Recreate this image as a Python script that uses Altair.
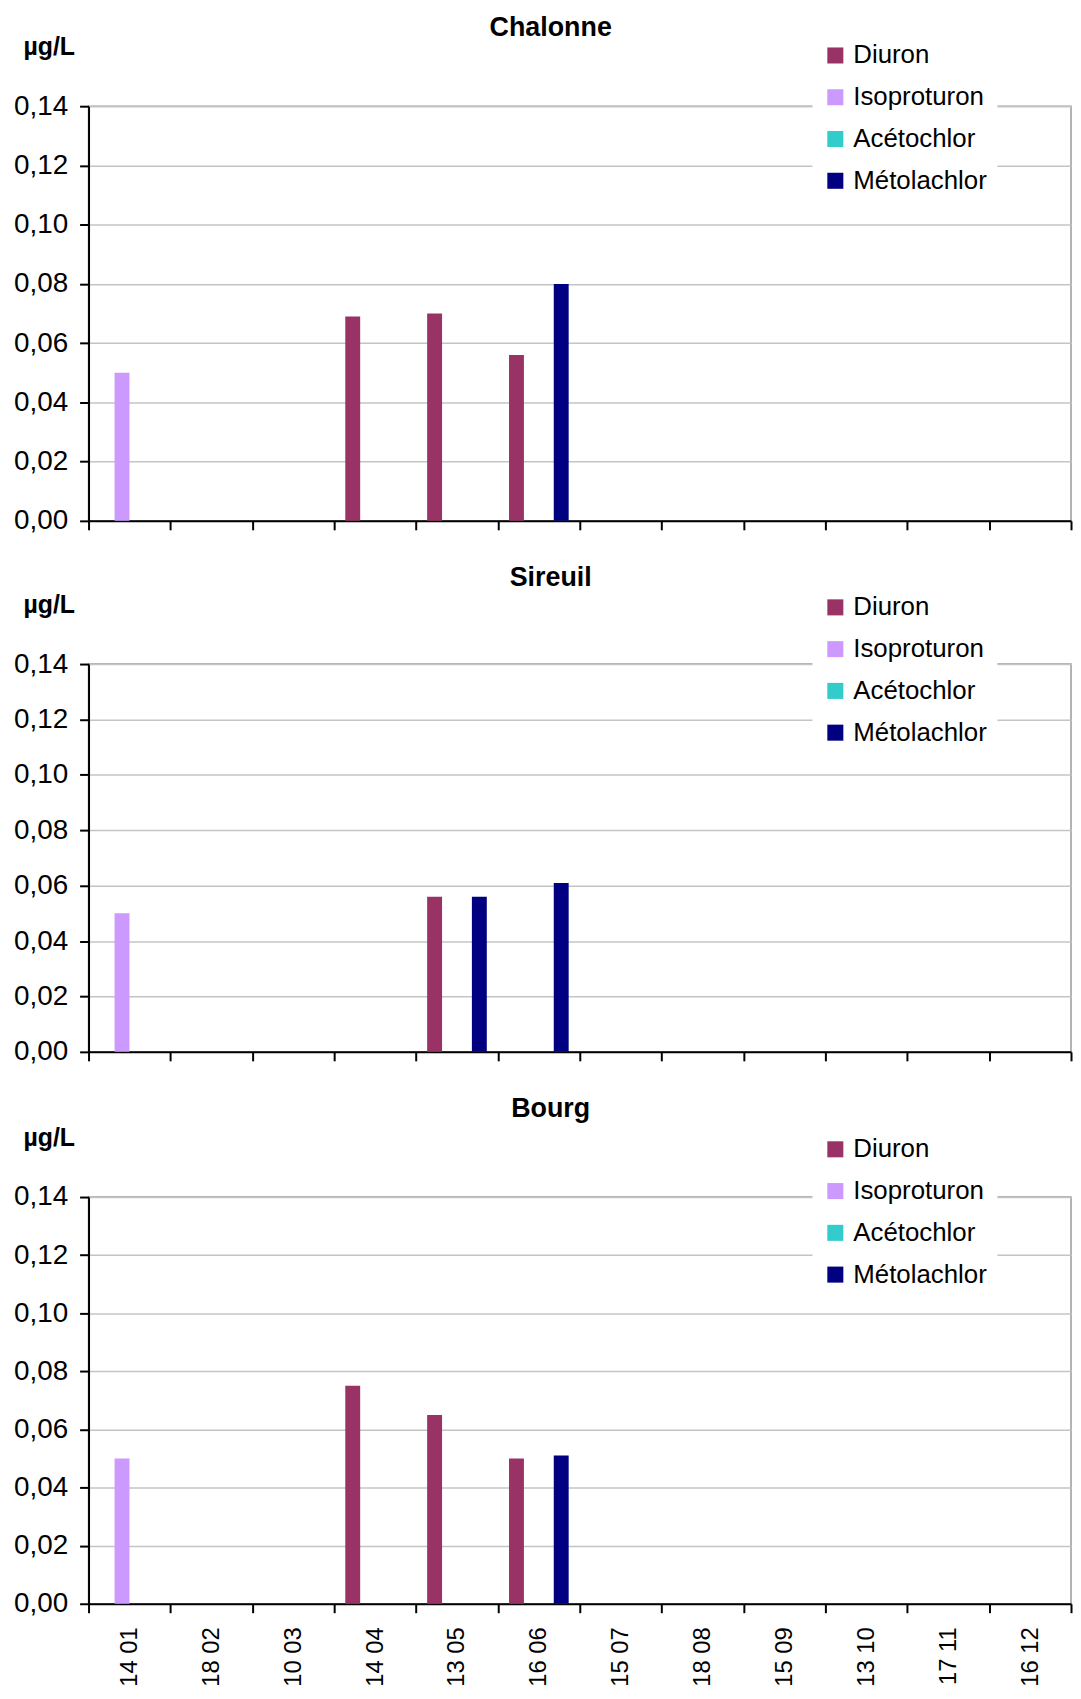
import altair as alt
import pandas as pd

dates = ["14 01", "18 02", "10 03", "14 04", "13 05", "16 06",
         "15 07", "18 08", "15 09", "13 10", "17 11", "16 12"]
series = ["Diuron", "Isoproturon", "Acétochlor", "Métolachlor"]
colors = ["#993366", "#CC99FF", "#33CCCC", "#000080"]
y_ticks = [0.0, 0.02, 0.04, 0.06, 0.08, 0.10, 0.12, 0.14]

# Chalonne
chalonne_diuron = [0, 0, 0, 0.069, 0.070, 0.056, 0, 0, 0, 0, 0, 0]
chalonne_isoproturon = [0.050, 0, 0, 0, 0, 0, 0, 0, 0, 0, 0, 0]
chalonne_acetochlor = [0, 0, 0, 0, 0, 0, 0, 0, 0, 0, 0, 0]
chalonne_metolachlor = [0, 0, 0, 0, 0, 0.080, 0, 0, 0, 0, 0, 0]

# Sireuil
sireuil_diuron = [0, 0, 0, 0, 0.056, 0, 0, 0, 0, 0, 0, 0]
sireuil_isoproturon = [0.050, 0, 0, 0, 0, 0, 0, 0, 0, 0, 0, 0]
sireuil_acetochlor = [0, 0, 0, 0, 0, 0, 0, 0, 0, 0, 0, 0]
sireuil_metolachlor = [0, 0, 0, 0, 0.056, 0.061, 0, 0, 0, 0, 0, 0]

# Bourg
bourg_diuron = [0, 0, 0, 0.075, 0.065, 0.050, 0, 0, 0, 0, 0, 0]
bourg_isoproturon = [0.050, 0, 0, 0, 0, 0, 0, 0, 0, 0, 0, 0]
bourg_acetochlor = [0, 0, 0, 0, 0, 0, 0, 0, 0, 0, 0, 0]
bourg_metolachlor = [0, 0, 0, 0, 0, 0.051, 0, 0, 0, 0, 0, 0]

stations = [
    ("Chalonne", [chalonne_diuron, chalonne_isoproturon, chalonne_acetochlor, chalonne_metolachlor], 417, -74, -9),
    ("Sireuil", [sireuil_diuron, sireuil_isoproturon, sireuil_acetochlor, sireuil_metolachlor], 390, -80, -8),
    ("Bourg", [bourg_diuron, bourg_isoproturon, bourg_acetochlor, bourg_metolachlor], 409, -71, 2),
]

FONT = "Liberation Sans"
W = 988


def panel(name, vals, height, legend_y, title_offset, show_labels):
    rows = []
    for s, v in zip(series, vals):
        for d, val in zip(dates, v):
            if val > 0:
                rows.append({"date": d, "series": s, "value": val})
    df = pd.DataFrame(rows)
    x_axis = alt.Axis(
        title=None,
        labels=show_labels,
        labelAngle=-90 if show_labels else 0,
        labelFontSize=24,
        labelPadding=14,
        labelBaseline="middle",
        labelAlign="right",
        tickBand="extent",
        ticks=True,
        tickSize=9,
        tickWidth=2,
        tickColor="black",
        domainColor="black",
        domainWidth=2,
        grid=False,
    )
    y_axis = alt.Axis(
        values=y_ticks,
        labelExpr="replace(format(datum.value, '.2f'), '.', ',')",
        title="µg/L",
        titleAngle=0,
        titleAlign="left",
        titleBaseline="middle",
        titleX=-66,
        titleY=-60,
        titleFontSize=25,
        titleFontWeight="bold",
        titleFont=FONT,
        titleColor="black",
        labelFontSize=28,
        labelPadding=12,
        tickSize=9,
        tickWidth=2,
        tickColor="black",
        domainColor="black",
        domainWidth=2,
        grid=True,
        gridColor="#c4c4c4",
        gridWidth=1.5,
    )
    return alt.Chart(df).mark_bar().encode(
        x=alt.X("date:N", sort=dates,
                scale=alt.Scale(domain=dates, paddingInner=0, paddingOuter=0),
                axis=x_axis),
        xOffset=alt.XOffset("series:N",
                            scale=alt.Scale(domain=series, paddingInner=0, paddingOuter=0.745)),
        y=alt.Y("value:Q", scale=alt.Scale(domain=[0, 0.14], nice=False), axis=y_axis),
        color=alt.Color("series:N", scale=alt.Scale(domain=series, range=colors),
                        legend=alt.Legend(
                            title=None, orient="none", legendX=728, legendY=legend_y,
                            fillColor="white", padding=10, symbolType="square",
                            symbolSize=260, symbolStrokeWidth=0, labelFontSize=26,
                            labelFont=FONT, labelColor="black", rowPadding=16,
                            labelOffset=5)),
    ).properties(
        width=W, height=height,
        title=alt.TitleParams(name, fontSize=27, font=FONT, fontWeight="bold",
                              anchor="middle", frame="bounds", color="black",
                              offset=title_offset, dx=8),
    )


charts = [panel(n, v, h, ly, to, i == 2) for i, (n, v, h, ly, to) in enumerate(stations)]

chart = alt.vconcat(*charts, spacing=28).resolve_scale(
    color="independent"
).resolve_legend(color="independent").configure(
    font=FONT,
    padding={"left": 4, "top": 0, "right": 0, "bottom": 0},
).configure_axis(
    labelFont=FONT, labelColor="black",
).configure_view(
    stroke="#9a9a9a", strokeWidth=1.5,
)

chart.save("out.html", embed_options={"renderer": "svg", "actions": False})
